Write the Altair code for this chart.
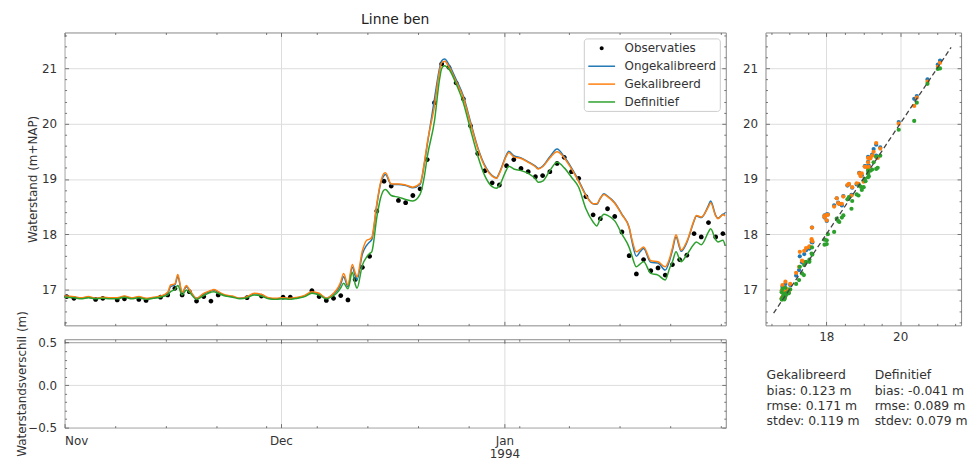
import altair as alt
import pandas as pd

# ---------------- data ----------------
title_text = "Linne ben"
series_names = ["Observaties", "Ongekalibreerd", "Gekalibreerd", "Definitief"]
series_colors = ["#000000", "#1f77b4", "#ff7f0e", "#2ca02c"]

# model knots: time in days since 1 Nov 1993
model_t = [0.0, 0.3, 1.3, 2.3, 3.3, 4.3, 5.3, 6.3, 7.3, 8.3,
           9.3, 10.3, 11.3, 12.3, 13.3, 14.3, 14.7, 15.3, 15.7, 16.3,
           16.9, 17.3, 18.3, 19.3, 20.3, 20.7, 21.3, 22.3, 23.3, 24.3,
           25.3, 26.3, 27.3, 28.3, 29.3, 30.3, 31.3, 32.3, 33.3, 34.3,
           35.3, 36.3, 37.3, 38.0, 38.3, 38.7, 39.3, 39.9, 40.3, 40.55,
           41.3, 41.9, 42.3, 42.6, 43.3, 43.8, 44.3, 44.5, 45.3, 46.3,
           47.3, 48.3, 49.3, 49.9, 50.3, 51.3, 52.0, 52.3, 52.7, 53.3,
           54.3, 55.3, 56.3, 57.3, 58.3, 59.3, 59.9, 60.3, 61.3, 61.6,
           62.3, 63.3, 64.3, 65.3, 65.7, 66.3, 67.3, 68.3, 69.3, 70.3,
           71.3, 72.3, 73.3, 73.8, 74.3, 74.8, 75.3, 76.3, 77.3, 78.3,
           78.7, 79.3, 79.8, 80.3, 81.3, 82.3, 83.3, 83.9, 84.3, 84.8,
           85.3, 85.5, 86.3, 87.3, 87.6, 88.3, 89.3, 89.6, 90.3, 90.6,
           91.3, 91.6]

model_gek = [16.88, 16.88, 16.87, 16.85, 16.87, 16.84, 16.86, 16.85, 16.85, 16.88,
             16.85, 16.87, 16.84, 16.86, 16.88, 16.95, 17.08, 17.10, 17.27, 16.95,
             17.07, 17.00, 16.84, 16.93, 16.98, 17.00, 16.96, 16.90, 16.88, 16.84,
             16.87, 16.93, 16.91, 16.85, 16.84, 16.85, 16.84, 16.86, 16.89, 16.96,
             16.93, 16.84, 16.93, 17.05, 17.14, 17.29, 17.08, 17.45, 17.30, 17.23,
             17.70, 17.89, 17.91, 17.94, 18.55, 18.92, 19.10, 19.11, 18.91, 18.91,
             18.89, 18.85, 18.92, 19.30, 19.65, 20.32, 20.95, 21.10, 21.13, 21.03,
             20.76, 20.47, 20.00, 19.55, 19.22, 19.05, 19.01, 19.10, 19.42, 19.48,
             19.40, 19.37, 19.30, 19.22, 19.18, 19.22, 19.38, 19.49, 19.38, 19.18,
             18.95, 18.70, 18.55, 18.55, 18.65, 18.72, 18.68, 18.56, 18.35, 18.12,
             17.90, 17.68, 17.72, 17.77, 17.52, 17.50, 17.41, 17.56, 17.75, 17.99,
             17.78, 17.71, 17.87, 18.25, 18.34, 18.31, 18.50, 18.57, 18.33, 18.28,
             18.35, 18.33]

model_ongek = [16.87, 16.87, 16.86, 16.84, 16.86, 16.84, 16.85, 16.84, 16.84, 16.87,
               16.84, 16.86, 16.83, 16.85, 16.87, 16.93, 17.05, 17.08, 17.23, 16.94,
               17.05, 16.99, 16.84, 16.92, 16.97, 16.99, 16.95, 16.89, 16.87, 16.84,
               16.86, 16.92, 16.90, 16.84, 16.83, 16.84, 16.83, 16.85, 16.88, 16.95,
               16.92, 16.84, 16.92, 17.02, 17.10, 17.23, 17.05, 17.40, 17.25, 17.17,
               17.64, 17.80, 17.86, 17.90, 18.52, 18.90, 19.06, 19.08, 18.90, 18.90,
               18.88, 18.84, 18.90, 19.28, 19.62, 20.45, 21.00, 21.14, 21.17, 21.07,
               20.80, 20.50, 20.03, 19.57, 19.24, 19.06, 19.02, 19.11, 19.44, 19.50,
               19.42, 19.38, 19.31, 19.23, 19.19, 19.23, 19.40, 19.54, 19.40, 19.20,
               18.97, 18.71, 18.55, 18.54, 18.65, 18.73, 18.69, 18.57, 18.36, 18.12,
               17.86, 17.60, 17.68, 17.74, 17.49, 17.48, 17.35, 17.52, 17.71, 17.95,
               17.75, 17.69, 17.85, 18.24, 18.33, 18.30, 18.52, 18.60, 18.34, 18.29,
               18.36, 18.37]

model_def = [16.86, 16.86, 16.85, 16.83, 16.85, 16.83, 16.84, 16.83, 16.83, 16.86,
             16.83, 16.85, 16.82, 16.84, 16.86, 16.90, 16.96, 17.00, 17.07, 16.90,
             16.99, 16.95, 16.82, 16.89, 16.95, 16.96, 16.93, 16.88, 16.86, 16.83,
             16.85, 16.90, 16.88, 16.83, 16.82, 16.83, 16.82, 16.84, 16.87, 16.93,
             16.90, 16.83, 16.89, 16.97, 17.03, 17.11, 17.01, 17.31, 17.10, 17.02,
             17.44, 17.59, 17.65, 17.68, 18.30, 18.64, 18.80, 18.81, 18.70, 18.67,
             18.63, 18.60, 18.72, 19.05, 19.40, 20.05, 20.80, 21.00, 21.05, 20.99,
             20.72, 20.38, 19.89, 19.42, 19.05, 18.86, 18.83, 18.88, 19.17, 19.23,
             19.18, 19.15, 19.10, 19.00, 18.94, 18.96, 19.15, 19.30, 19.20, 19.03,
             18.85, 18.46, 18.22, 18.15, 18.28, 18.36, 18.34, 18.24, 18.00, 17.76,
             17.60, 17.41, 17.46, 17.50, 17.29, 17.26, 17.17, 17.38, 17.50, 17.68,
             17.54, 17.50, 17.63, 17.82, 17.86, 17.81, 18.04, 18.10, 17.90, 17.86,
             17.89, 17.80]

# observations (day since 1 Nov, taken at ~07:00)
obs_time_of_day = 0.3
obs_day = [0, 1, 4, 5, 7, 8, 10, 11, 13,
           14, 15, 16, 17, 18, 19, 20, 21,
           25, 27, 30, 31,
           34, 35, 36, 37, 38, 39, 40, 41, 42, 43, 44, 45, 46, 47, 48, 49,
           50, 51, 52, 53, 54, 55, 56, 57, 58, 59, 60, 61, 62, 63, 64, 65,
           66, 67, 68, 69, 70, 71, 72, 73, 74, 75, 76, 77, 78, 79, 80, 81,
           82, 83, 84, 85, 86, 87, 88, 89, 90, 91]
obs_val = [16.87, 16.84, 16.82, 16.84, 16.81, 16.83, 16.82, 16.80, 16.86,
           16.90, 17.02, 16.90, 16.96, 16.79, 16.87, 16.79, 16.90,
           16.85, 16.88, 16.86, 16.86,
           16.98, 16.87, 16.80, 16.84, 16.89, 16.81, 17.18, 17.40, 17.60, 18.42, 18.96, 18.87, 18.61, 18.57, 18.70, 18.82,
           19.35, 20.38, 21.08, 21.02, 20.74, 20.45, 19.96, 19.46, 19.15, 18.93, 18.89, 19.24, 19.35, 19.19, 19.13, 19.04,
           19.06, 19.13, 19.28, 19.39, 19.13, 19.01, 18.68, 18.35, 18.28, 18.46, 18.32, 18.04, 17.61, 17.28, 17.54, 17.34,
           17.39, 17.26, 17.45, 17.54, 17.62, 18.01, 17.95, 18.21, 17.95, 18.01]

# axes
month_ticks = [0, 30, 61]
month_labels = ["Nov", "Dec", "Jan"]
year_label = "1994"
week_ticks = [7, 14, 21, 28, 35, 42, 49, 56, 63, 70, 77, 84, 91]
x_domain = [0, 91.7]
level_domain = [16.35, 21.65]
level_ticks = [17, 18, 19, 20, 21]
level_minor = [16.4, 16.6, 16.8, 17.2, 17.4, 17.6, 17.8, 18.2, 18.4, 18.6, 18.8,
               19.2, 19.4, 19.6, 19.8, 20.2, 20.4, 20.6, 20.8, 21.2, 21.4, 21.6]
scatter_x_ticks = [18, 20]
scatter_x_minor = [16.5, 17.0, 17.5, 18.5, 19.0, 19.5, 20.5, 21.0, 21.5]
resid_domain = [-0.5, 0.54]
resid_ticks = [-0.5, 0.0, 0.5]
resid_minor = [-0.4, -0.3, -0.2, -0.1, 0.1, 0.2, 0.3, 0.4]
diag_ends = [16.57, 21.38]

stats_headers = ["Gekalibreerd", "Definitief"]
stats_bias = ["0.123", "-0.041"]
stats_rmse = ["0.171", "0.089"]
stats_stdev = ["0.119", "0.079"]

# ---------------- tables ----------------
model_df = pd.DataFrame({"t": model_t, "Ongekalibreerd": model_ongek,
                         "Gekalibreerd": model_gek, "Definitief": model_def})
model_long = model_df.melt("t", var_name="series", value_name="h")
obs_df = pd.DataFrame({"t": [d + obs_time_of_day for d in obs_day], "h": obs_val})
obs_df["series"] = "Observaties"

mk = model_df.copy()
mk["key"] = mk["t"].round(2)
ob = obs_df.copy()
ob["key"] = ob["t"].round(2)
sc = ob[["key", "h"]].rename(columns={"h": "obs"}).merge(mk.drop(columns="t"), on="key")
scatter_long = sc.melt(["key", "obs"], var_name="series", value_name="model")

resid_df = pd.DataFrame({"t": obs_df["t"], "r": [0.0] * len(obs_df)})
diag_df = pd.DataFrame({"a": diag_ends, "b": diag_ends})

rows = []
for c in range(2):
    rows.append({"col": c, "row": 0, "label": stats_headers[c]})
    rows.append({"col": c, "row": 1, "label": f"bias: {stats_bias[c]} m"})
    rows.append({"col": c, "row": 2, "label": f"rmse: {stats_rmse[c]} m"})
    rows.append({"col": c, "row": 3, "label": f"stdev: {stats_stdev[c]} m"})
stats_df = pd.DataFrame(rows)

# ---------------- style ----------------
FONT = "DejaVu Sans"
TXT = "#333333"
GRID = "#dddddd"
TICK = "#555555"
FRAME = "#888888"
W_MAIN, H_MAIN = 666, 295
W_SC = 197
H_RES = 89

xs = alt.Scale(domain=x_domain, nice=False, zero=False)
ys = alt.Scale(domain=level_domain, nice=False, zero=False)
rs = alt.Scale(domain=resid_domain, nice=False, zero=False)

circle_path = "M-0.3,0A0.3,0.3,0,1,0,0.3,0A0.3,0.3,0,1,0,-0.3,0Z"
bar_path = "M-2,-0.11H2V0.11H-2Z"
color_scale = alt.Scale(domain=series_names, range=series_colors)
shape_scale = alt.Scale(domain=series_names, range=[circle_path, bar_path, bar_path, bar_path])


def tick_axis(orient, values, size):
    return alt.Axis(orient=orient, values=values, offset=-size, tickSize=size, ticks=True,
                    labels=False, domain=False, grid=False, title=None,
                    tickColor=TICK, tickWidth=0.8)


def tick_layers(data, xf, yf, xscale, yscale, x_major, x_minor, y_major, y_minor):
    out = []
    specs = [("bottom", "left", x_major, y_major, 4), ("top", "right", x_major, y_major, 4),
             ("bottom", "left", x_minor, y_minor, 2), ("top", "right", x_minor, y_minor, 2)]
    for xo, yo, xv, yv, s in specs:
        out.append(alt.Chart(data).mark_point(opacity=0).encode(
            x=alt.X(xf, type="quantitative", scale=xscale, axis=tick_axis(xo, xv, s)),
            y=alt.Y(yf, type="quantitative", scale=yscale, axis=tick_axis(yo, yv, s))))
    return out


legend = alt.Legend(title=None, orient="top-right", offset=6, padding=3, symbolSize=182,
                    symbolOffset=8, labelOffset=16, rowPadding=5, labelFont=FONT,
                    labelFontSize=12, labelColor=TXT, strokeColor="#cccccc",
                    cornerRadius=3, fillColor="rgba(255,255,255,0.85)", symbolStrokeWidth=0)

# ---------------- main panel ----------------
obs_layer = alt.Chart(obs_df).mark_point(filled=True, size=256, strokeWidth=0, opacity=1).encode(
    x=alt.X("t:Q", scale=xs, axis=alt.Axis(orient="bottom", values=month_ticks, grid=True,
                                             labels=False, ticks=False, domain=False, title=None)),
    y=alt.Y("h:Q", scale=ys, axis=alt.Axis(orient="left", values=level_ticks, grid=True,
                                             ticks=False, tickSize=0, domain=False, labelPadding=8,
                                             minExtent=24, maxExtent=24, titlePadding=1,
                                             title="Waterstand (m+NAP)")),
    color=alt.Color("series:N", scale=color_scale, legend=legend),
    shape=alt.Shape("series:N", scale=shape_scale, legend=legend),
)

line_layers = []
for name in series_names[1:]:
    line_layers.append(
        alt.Chart(model_long).transform_filter(alt.datum.series == name)
        .mark_line(strokeWidth=1.5, interpolate="monotone").encode(
            x=alt.X("t:Q", scale=xs, axis=None),
            y=alt.Y("h:Q", scale=ys, axis=None),
            color=alt.Color("series:N", scale=color_scale, legend=None),
        ))

main = alt.layer(
    obs_layer, *line_layers,
    *tick_layers(obs_df, "t", "h", xs, ys, month_ticks, week_ticks, level_ticks, level_minor)
).resolve_axis(x="independent", y="independent").properties(
    width=W_MAIN, height=H_MAIN,
    title=alt.TitleParams(title_text, font=FONT, fontSize=14, fontWeight="normal",
                          color="#222222", anchor="middle", offset=5),
)

# ---------------- residual panel ----------------
label_expr = (f"datum.value == {month_ticks[2]} ? ['{month_labels[2]}', '{year_label}'] : "
              f"(datum.value == {month_ticks[1]} ? '{month_labels[1]}' : '{month_labels[0]}')")
resid_grid_color = {"condition": {"test": f"datum.value >= {resid_ticks[2]}", "value": "#9a9a9a"},
                    "value": GRID}
resid_base = alt.Chart(resid_df).mark_point(opacity=0).encode(
    x=alt.X("t:Q", scale=xs, axis=alt.Axis(orient="bottom", values=month_ticks, grid=True,
                                             ticks=False, tickSize=0, domain=False, title=None,
                                             labelExpr=label_expr, labelPadding=8,
                                             labelLineHeight=13)),
    y=alt.Y("r:Q", scale=rs, axis=alt.Axis(orient="left", values=resid_ticks, format=".1f",
                                             grid=True, gridColor=resid_grid_color,
                                             ticks=False, tickSize=0, domain=False,
                                             labelPadding=8, minExtent=35, maxExtent=35,
                                             titlePadding=1.5, title="Waterstandsverschil (m)")),
)
resid = alt.layer(
    resid_base,
    *tick_layers(resid_df, "t", "r", xs, rs, month_ticks, week_ticks, resid_ticks, resid_minor)
).resolve_axis(x="independent", y="independent").properties(width=W_MAIN, height=H_RES)

# ---------------- scatter panel ----------------
diag = alt.Chart(diag_df).mark_line(color="#444444", strokeWidth=1.3, strokeDash=[5, 3]).encode(
    x=alt.X("a:Q", scale=ys, axis=alt.Axis(orient="bottom", values=scatter_x_ticks, grid=True,
                                             ticks=False, tickSize=0, domain=False, title=None,
                                             labelPadding=6)),
    y=alt.Y("b:Q", scale=ys, axis=alt.Axis(orient="left", values=level_ticks, grid=True,
                                             ticks=False, tickSize=0, domain=False, title=None,
                                             labelPadding=8)),
)
sc_layers = []
for name, col in zip(series_names[1:], series_colors[1:]):
    sc_layers.append(
        alt.Chart(scatter_long).transform_filter(alt.datum.series == name)
        .mark_circle(size=18, opacity=1, color=col).encode(
            x=alt.X("obs:Q", scale=ys, axis=None),
            y=alt.Y("model:Q", scale=ys, axis=None),
        ))
scatter = alt.layer(
    *sc_layers, diag,
    *tick_layers(diag_df, "a", "b", ys, ys, scatter_x_ticks, scatter_x_minor, level_ticks, level_minor)
).resolve_axis(x="independent", y="independent").properties(width=W_SC, height=H_MAIN)

# ---------------- stats text ----------------
stats = alt.Chart(stats_df).mark_text(align="left", baseline="middle", font=FONT,
                                      fontSize=12.5, color=TXT).encode(
    x=alt.X("col:Q", scale=alt.Scale(domain=[-0.01, 1.8], nice=False, zero=False), axis=None),
    y=alt.Y("row:Q", scale=alt.Scale(domain=[-2.4, 3.45], nice=False, zero=False, reverse=True),
            axis=None),
    text="label:N",
).properties(width=W_SC, height=H_RES, view=alt.ViewBackground(stroke="transparent"))

chart = alt.concat(
    main, scatter, resid, stats, columns=2, align="each", bounds="flush",
    spacing=alt.RowColnumber(row=14, column=40),
).resolve_scale(
    color="independent", shape="independent"
).properties(
    padding={"left": 7, "top": 3, "right": 2, "bottom": 2}
).configure_view(stroke=FRAME, strokeWidth=1).configure_axis(
    labelFont=FONT, labelFontSize=12, labelColor=TXT, titleFont=FONT, titleFontSize=12,
    titleFontWeight="normal", titleColor=TXT, gridColor=GRID, gridWidth=1
)

chart.save("out.html", embed_options={"renderer": "svg", "actions": False})
